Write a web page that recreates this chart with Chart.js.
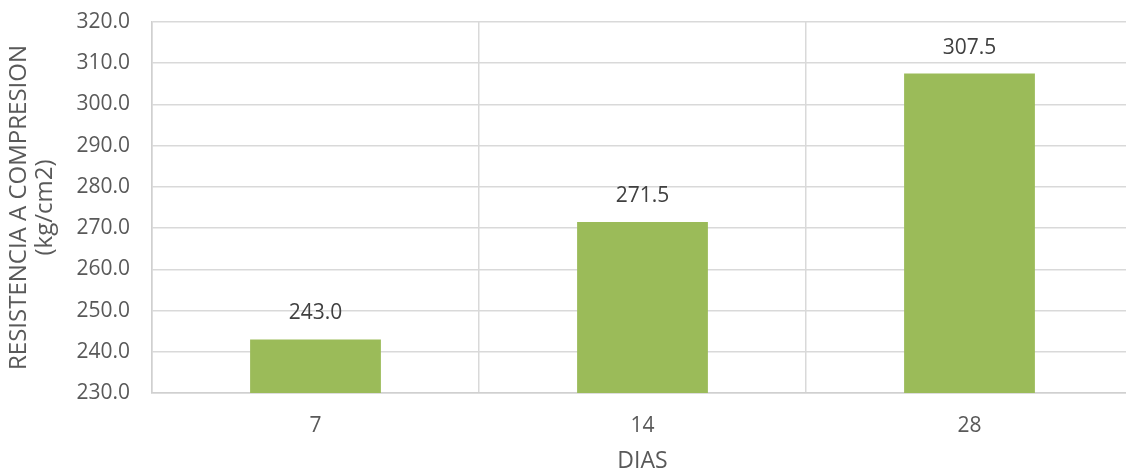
<!DOCTYPE html>
<html>
<head>
<meta charset="utf-8">
<script src="https://cdn.jsdelivr.net/npm/chart.js@4/dist/chart.umd.min.js"></script>
<style>
  html, body { margin: 0; padding: 0; background: #fff; overflow: hidden; }
  #wrap { width: 1126px; height: 473px; overflow: hidden; position: relative; }
  #box { width: 1133px; height: 473px; position: absolute; left: 0; top: 0; }
</style>
</head>
<body>
<div id="wrap"><div id="box"><canvas id="chart"></canvas></div></div>
<script>
// datos
const dias = ["7", "14", "28"];
const resistencia = [243.0, 271.5, 307.5];
const yMin = 230, yMax = 320, yStep = 10;

const FONT = "'Open Sans', 'Liberation Sans', sans-serif";
const GRIS = "#595959";

// etiquetas sobre las barras
const etiquetas = {
  id: "etiquetas",
  afterDatasetsDraw(chart) {
    const ctx = chart.ctx;
    const meta = chart.getDatasetMeta(0);
    ctx.save();
    ctx.font = "21px " + FONT;
    ctx.fillStyle = "#404040";
    ctx.textAlign = "center";
    ctx.textBaseline = "middle";
    meta.data.forEach((bar, i) => {
      ctx.fillText(resistencia[i].toFixed(1), bar.x, bar.y - 26);
    });
    ctx.restore();
  }
};

new Chart(document.getElementById("chart"), {
  type: "bar",
  data: {
    labels: dias,
    datasets: [{
      data: resistencia,
      backgroundColor: "#9BBB59",
      borderWidth: 0,
      categoryPercentage: 1,
      barPercentage: 0.4
    }]
  },
  options: {
    responsive: true,
    maintainAspectRatio: false,
    animation: false,
    layout: { padding: 0 },
    plugins: {
      legend: { display: false },
      tooltip: { enabled: false }
    },
    scales: {
      x: {
        offset: true,
        grid: { offset: true, color: "#d9d9d9", lineWidth: 1.5, drawTicks: false },
        border: { color: "#d0d0d0", width: 1.5 },
        ticks: { color: GRIS, font: { family: FONT, size: 21 }, padding: 20 },
        title: {
          display: true, text: "DIAS", color: GRIS,
          font: { family: FONT, size: 23, lineHeight: 1.0 }, padding: { top: 4, bottom: 0 }
        },
        afterFit(scale) { scale.height = 80; }
      },
      y: {
        min: yMin, max: yMax,
        grid: { color: "#d9d9d9", lineWidth: 1.5, drawTicks: false },
        border: { color: "#d0d0d0", width: 1.5 },
        ticks: {
          stepSize: yStep, color: GRIS, padding: 22,
          font: { family: FONT, size: 21 },
          callback: v => v.toFixed(1)
        },
        title: {
          display: true, text: ["RESISTENCIA A COMPRESION", "(kg/cm2)"], color: GRIS,
          font: { family: FONT, size: 24, lineHeight: 1.05 }, padding: { top: 7, bottom: 0 }
        },
        afterFit(scale) {
          scale.width = 152;
          scale.paddingTop = 22;
        }
      }
    }
  },
  plugins: [etiquetas]
});
</script>
</body>
</html>
